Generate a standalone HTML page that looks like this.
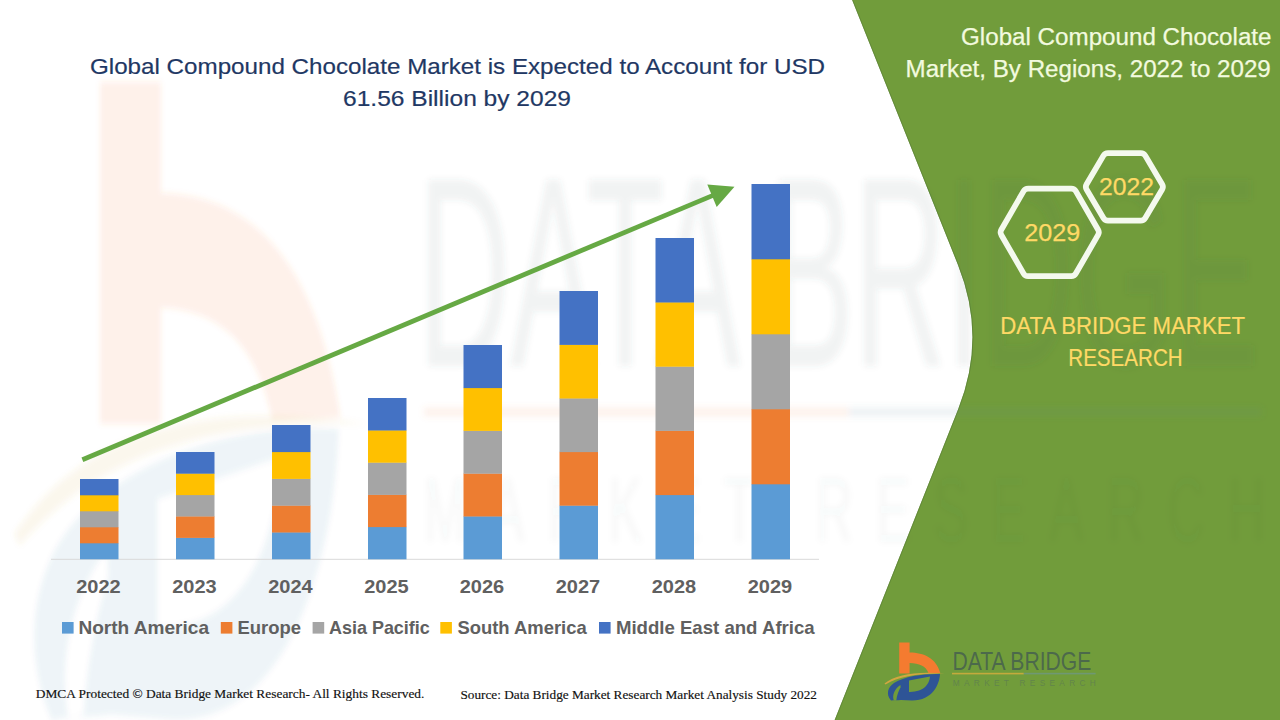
<!DOCTYPE html>
<html><head><meta charset="utf-8"><title>Global Compound Chocolate Market</title>
<style>
html,body{margin:0;padding:0;background:#fff;}
body{width:1280px;height:720px;overflow:hidden;font-family:"Liberation Sans",sans-serif;}
svg{display:block;}
text{font-family:"Liberation Sans",sans-serif;}
.ttl{font-size:22.6px;fill:#1F3864;stroke:#1F3864;stroke-width:0.2px;}
.rt{font-size:23px;fill:#F2FADF;stroke:#F2FADF;stroke-width:0.25px;}
.yr{font-size:18.6px;font-weight:bold;fill:#606060;}
.lg{font-size:18.2px;font-weight:bold;fill:#606060;}
.hx{font-size:24px;fill:#FFD966;stroke:#FFD966;stroke-width:0.25px;}
.db{font-size:23.4px;fill:#FFD966;stroke:#FFD966;stroke-width:0.2px;}
.ft{font-family:"Liberation Serif",serif;font-size:12.3px;fill:#111;stroke:#111;stroke-width:0.15px;}
</style></head><body>
<svg width="1280" height="720" viewBox="0 0 1280 720">
<defs>
<filter id="bl2" x="-5%" y="-10%" width="110%" height="120%"><feGaussianBlur stdDeviation="3"/></filter>
<filter id="bl" x="-5%" y="-5%" width="110%" height="110%"><feGaussianBlur stdDeviation="0.5 0.3"/></filter>
</defs>
<rect width="1280" height="720" fill="#fff"/>
<!-- green panel -->
<path d="M852.2,0 L958.07,265 Q986.9,337.1 958.3,409 L834.7,720 L1280,720 L1280,0 Z" fill="#719C3B"/>
<path d="M852.6,0 L958.47,265 Q987.3,337.1 958.7,409 L835.1,720" fill="none" stroke="#587F35" stroke-width="1" stroke-opacity="0.7"/>
<!-- watermark -->
<g transform="translate(-5160.3,-6985.5) scale(5.85,11)" filter="url(#bl)"><path d="M899.2,642.5 H909.6 V652.6 C924,652.8 936,658 940.3,673 L928.6,673.2 C926,666 919,663.2 909.6,663 V673.6 H899.2 Z" fill="#F47B30" opacity="0.105"/>
<path d="M884.5,683.6 C896,674.5 916,671.2 945,673.6 C917,673.2 899,676.5 885.5,684.6 Z" fill="#D2A640" opacity="0.09"/>
<path fill-rule="evenodd" fill="#2E5496" opacity="0.065" d="M940,674 C939.5,684 933,700.5 912,700.5 L901,700 C897,700.4 894,700 891,700.6 C885.5,694 888,687 894,683 C905,676 925,673.5 940,674 Z M909,680.4 L930,676.6 C929.5,684 924,692.4 909,692 Z M900.4,685 C894.5,689 892,695 893.8,700.4 L896.4,700 C897,695 899,690 900.6,687.5 Z"/></g>
<g filter="url(#bl2)">
<text transform="translate(418,366) scale(6.05,10.5)" x="0" y="0" font-size="25.8" fill="#46524E" fill-opacity="0.075" textLength="139" lengthAdjust="spacingAndGlyphs">DATA BRIDGE</text>
<rect x="424" y="407.5" width="424" height="9" fill="#F08A4B" opacity="0.11"/>
<rect x="848" y="407.5" width="414" height="9" fill="#5C7F8F" opacity="0.10"/>
<text transform="translate(424,542) scale(6.05,11)" x="0" y="0" font-size="8.4" fill="#46524E" fill-opacity="0.035" textLength="139" lengthAdjust="spacing">MARKET  RESEARCH</text>
</g>
<!-- axis -->
<line x1="51" y1="559.3" x2="819" y2="559.3" stroke="#D9D9D9" stroke-width="1"/>
<!-- bars -->
<rect x="80" y="543.00" width="38.5" height="16.30" fill="#5B9BD5"/>
<rect x="80" y="527.00" width="38.5" height="16.30" fill="#ED7D31"/>
<rect x="80" y="511.00" width="38.5" height="16.30" fill="#A5A5A5"/>
<rect x="80" y="495.00" width="38.5" height="16.30" fill="#FFC000"/>
<rect x="80" y="479.00" width="38.5" height="16.30" fill="#4472C4"/>
<rect x="176" y="537.60" width="38.5" height="21.70" fill="#5B9BD5"/>
<rect x="176" y="516.20" width="38.5" height="21.70" fill="#ED7D31"/>
<rect x="176" y="494.80" width="38.5" height="21.70" fill="#A5A5A5"/>
<rect x="176" y="473.40" width="38.5" height="21.70" fill="#FFC000"/>
<rect x="176" y="452.00" width="38.5" height="21.70" fill="#4472C4"/>
<rect x="272" y="532.20" width="38.5" height="27.10" fill="#5B9BD5"/>
<rect x="272" y="505.40" width="38.5" height="27.10" fill="#ED7D31"/>
<rect x="272" y="478.60" width="38.5" height="27.10" fill="#A5A5A5"/>
<rect x="272" y="451.80" width="38.5" height="27.10" fill="#FFC000"/>
<rect x="272" y="425.00" width="38.5" height="27.10" fill="#4472C4"/>
<rect x="368" y="526.80" width="38.5" height="32.50" fill="#5B9BD5"/>
<rect x="368" y="494.60" width="38.5" height="32.50" fill="#ED7D31"/>
<rect x="368" y="462.40" width="38.5" height="32.50" fill="#A5A5A5"/>
<rect x="368" y="430.20" width="38.5" height="32.50" fill="#FFC000"/>
<rect x="368" y="398.00" width="38.5" height="32.50" fill="#4472C4"/>
<rect x="463.5" y="516.20" width="38.5" height="43.10" fill="#5B9BD5"/>
<rect x="463.5" y="473.40" width="38.5" height="43.10" fill="#ED7D31"/>
<rect x="463.5" y="430.60" width="38.5" height="43.10" fill="#A5A5A5"/>
<rect x="463.5" y="387.80" width="38.5" height="43.10" fill="#FFC000"/>
<rect x="463.5" y="345.00" width="38.5" height="43.10" fill="#4472C4"/>
<rect x="559.5" y="505.40" width="38.5" height="53.90" fill="#5B9BD5"/>
<rect x="559.5" y="451.80" width="38.5" height="53.90" fill="#ED7D31"/>
<rect x="559.5" y="398.20" width="38.5" height="53.90" fill="#A5A5A5"/>
<rect x="559.5" y="344.60" width="38.5" height="53.90" fill="#FFC000"/>
<rect x="559.5" y="291.00" width="38.5" height="53.90" fill="#4472C4"/>
<rect x="655.5" y="494.80" width="38.5" height="64.50" fill="#5B9BD5"/>
<rect x="655.5" y="430.60" width="38.5" height="64.50" fill="#ED7D31"/>
<rect x="655.5" y="366.40" width="38.5" height="64.50" fill="#A5A5A5"/>
<rect x="655.5" y="302.20" width="38.5" height="64.50" fill="#FFC000"/>
<rect x="655.5" y="238.00" width="38.5" height="64.50" fill="#4472C4"/>
<rect x="751.5" y="484.00" width="38.5" height="75.30" fill="#5B9BD5"/>
<rect x="751.5" y="409.00" width="38.5" height="75.30" fill="#ED7D31"/>
<rect x="751.5" y="334.00" width="38.5" height="75.30" fill="#A5A5A5"/>
<rect x="751.5" y="259.00" width="38.5" height="75.30" fill="#FFC000"/>
<rect x="751.5" y="184.00" width="38.5" height="75.30" fill="#4472C4"/>
<text x="98.5" y="592.9" text-anchor="middle" class="yr" textLength="44.5" lengthAdjust="spacingAndGlyphs">2022</text>
<text x="194.4" y="592.9" text-anchor="middle" class="yr" textLength="44.5" lengthAdjust="spacingAndGlyphs">2023</text>
<text x="290.4" y="592.9" text-anchor="middle" class="yr" textLength="44.5" lengthAdjust="spacingAndGlyphs">2024</text>
<text x="386.4" y="592.9" text-anchor="middle" class="yr" textLength="44.5" lengthAdjust="spacingAndGlyphs">2025</text>
<text x="481.9" y="592.9" text-anchor="middle" class="yr" textLength="44.5" lengthAdjust="spacingAndGlyphs">2026</text>
<text x="578.0" y="592.9" text-anchor="middle" class="yr" textLength="44.5" lengthAdjust="spacingAndGlyphs">2027</text>
<text x="674.0" y="592.9" text-anchor="middle" class="yr" textLength="44.5" lengthAdjust="spacingAndGlyphs">2028</text>
<text x="770.0" y="592.9" text-anchor="middle" class="yr" textLength="44.5" lengthAdjust="spacingAndGlyphs">2029</text>
<rect x="62" y="622" width="11.6" height="11.6" fill="#5B9BD5"/>
<text x="78.4" y="634" class="lg" textLength="130.6" lengthAdjust="spacingAndGlyphs">North America</text>
<rect x="220.8" y="622" width="11.6" height="11.6" fill="#ED7D31"/>
<text x="237.5" y="634" class="lg" textLength="63.5" lengthAdjust="spacingAndGlyphs">Europe</text>
<rect x="312.6" y="622" width="11.6" height="11.6" fill="#A5A5A5"/>
<text x="329" y="634" class="lg" textLength="100.8" lengthAdjust="spacingAndGlyphs">Asia Pacific</text>
<rect x="440.3" y="622" width="11.6" height="11.6" fill="#FFC000"/>
<text x="457.4" y="634" class="lg" textLength="129.3" lengthAdjust="spacingAndGlyphs">South America</text>
<rect x="599" y="622" width="11.6" height="11.6" fill="#4472C4"/>
<text x="615.9" y="634" class="lg" textLength="198.8" lengthAdjust="spacingAndGlyphs">Middle East and Africa</text>
<!-- arrow -->
<line x1="82.4" y1="459.75" x2="716" y2="194.1" stroke="#66A944" stroke-width="4.8"/>
<polygon points="734.5,186.7 707.3,184.5 716.7,207" fill="#66A944"/>
<!-- titles -->
<text x="90" y="74.4" class="ttl" textLength="735" lengthAdjust="spacingAndGlyphs">Global Compound Chocolate Market is Expected to Account for USD</text>
<text x="343" y="106" class="ttl" textLength="228" lengthAdjust="spacingAndGlyphs">61.56 Billion by 2029</text>
<text x="961" y="44.6" class="rt" textLength="310.5" lengthAdjust="spacingAndGlyphs">Global Compound Chocolate</text>
<text x="905.5" y="76.9" class="rt" textLength="365.3" lengthAdjust="spacingAndGlyphs">Market, By Regions, 2022 to 2029</text>
<!-- hexagons -->
<path d="M1001.30,234.95 Q999.80,232.35 1001.30,229.75 L1023.60,191.15 Q1025.10,188.55 1028.10,188.55 L1071.30,188.55 Q1074.30,188.55 1075.80,191.15 L1098.10,229.75 Q1099.60,232.35 1098.10,234.95 L1075.80,273.55 Q1074.30,276.15 1071.30,276.15 L1028.10,276.15 Q1025.10,276.15 1023.60,273.55 Z" fill="none" stroke="#F4F9EE" stroke-width="5.7" stroke-linejoin="round"/>
<path d="M1086.57,189.44 Q1085.05,186.85 1086.57,184.26 L1103.43,155.64 Q1104.95,153.05 1107.95,153.05 L1140.75,153.05 Q1143.75,153.05 1145.27,155.64 L1162.13,184.26 Q1163.65,186.85 1162.13,189.44 L1145.27,218.06 Q1143.75,220.65 1140.75,220.65 L1107.95,220.65 Q1104.95,220.65 1103.43,218.06 Z" fill="none" stroke="#F4F9EE" stroke-width="5.7" stroke-linejoin="round"/>
<text x="1052.2" y="241" class="hx" text-anchor="middle" textLength="56" lengthAdjust="spacingAndGlyphs">2029</text>
<text x="1126.4" y="195.2" class="hx" text-anchor="middle" textLength="55" lengthAdjust="spacingAndGlyphs">2022</text>
<text x="1000.3" y="334" class="db" textLength="244.8" lengthAdjust="spacingAndGlyphs">DATA BRIDGE MARKET</text>
<text x="1068.3" y="365.8" class="db" textLength="114.3" lengthAdjust="spacingAndGlyphs">RESEARCH</text>
<!-- logo -->
<path d="M899.2,642.5 H909.6 V652.6 C924,652.8 936,658 940.3,673 L928.6,673.2 C926,666 919,663.2 909.6,663 V673.6 H899.2 Z" fill="#F47B30" opacity="1"/>
<path d="M884.5,683.6 C896,674.5 916,671.2 945,673.6 C917,673.2 899,676.5 885.5,684.6 Z" fill="#D2A640" opacity="1"/>
<path fill-rule="evenodd" fill="#2E5496" opacity="1" d="M940,674 C939.5,684 933,700.5 912,700.5 L901,700 C897,700.4 894,700 891,700.6 C885.5,694 888,687 894,683 C905,676 925,673.5 940,674 Z M909,680.4 L930,676.6 C929.5,684 924,692.4 909,692 Z M900.4,685 C894.5,689 892,695 893.8,700.4 L896.4,700 C897,695 899,690 900.6,687.5 Z"/>
<text x="952.4" y="669.8" font-size="25.8" fill="#46604E" fill-opacity="0.85" textLength="139" lengthAdjust="spacingAndGlyphs">DATA BRIDGE</text>
<rect x="952" y="672.8" width="71.8" height="1.6" fill="#C4AA3C" opacity="1"/>
<rect x="1023.8" y="672.8" width="71.8" height="1.6" fill="#6F9873" opacity="1"/>
<text x="952.8" y="686.4" font-size="8.4" fill="#55705A" fill-opacity="0.55" textLength="143" lengthAdjust="spacing">MARKET  RESEARCH</text>
<!-- footer -->
<text x="35.8" y="698.2" class="ft" textLength="388.6" lengthAdjust="spacingAndGlyphs">DMCA Protected © Data Bridge Market Research- All Rights Reserved.</text>
<text x="460.4" y="699" class="ft" textLength="356.6" lengthAdjust="spacingAndGlyphs">Source: Data Bridge Market Research Market Analysis Study 2022</text>
</svg>
</body></html>
